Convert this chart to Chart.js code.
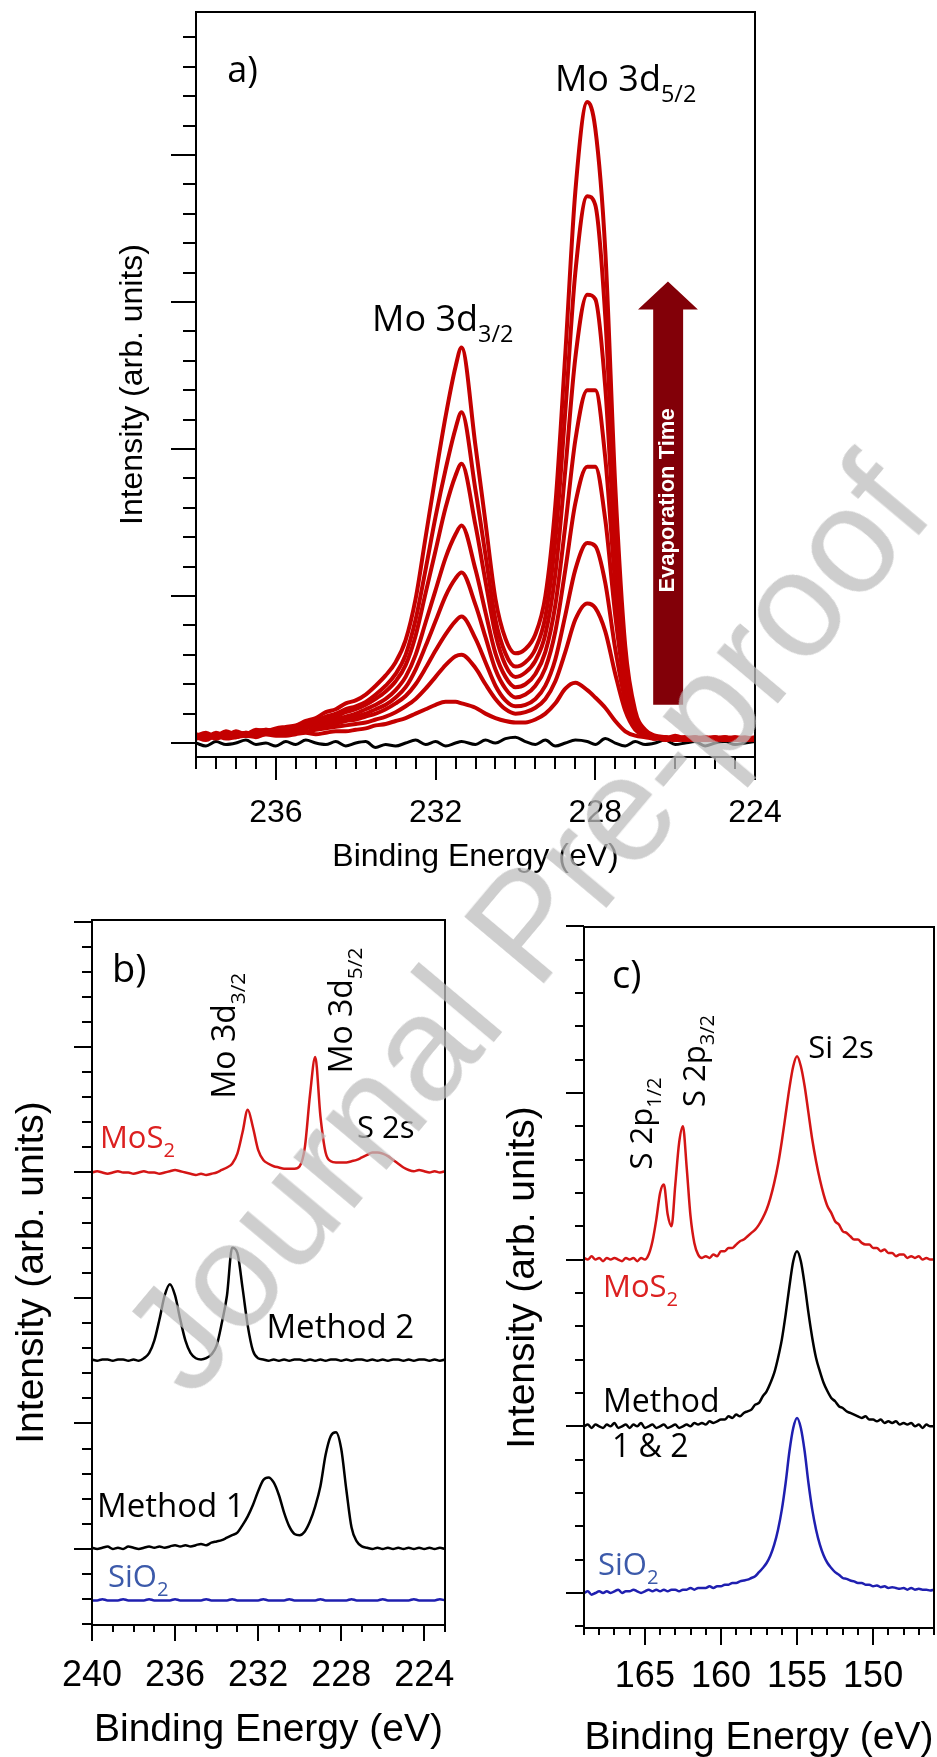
<!DOCTYPE html>
<html>
<head>
<meta charset="utf-8">
<title>XPS Mo 3d / S 2p spectra</title>
<script src="https://cdn.jsdelivr.net/npm/chart.js@4.4.1/dist/chart.umd.min.js"></script>
<style>
  html, body { margin: 0; padding: 0; background: #fff; overflow: hidden; }
  body { width: 937px; height: 1757px; position: relative; }
  .panel { position: absolute; }
  .panel canvas { display: block; }
  #watermark {
    position: absolute; left: 525px; top: 924px;
    transform: translate(-50%, -50%) rotate(-50deg);
    font: 150px "Liberation Sans", Arial, sans-serif; line-height: 1;
    color: rgba(190, 190, 190, 0.75); white-space: nowrap; pointer-events: none;
  }
</style>
</head>
<body>
<div class="panel" style="left:0;top:0"><canvas id="chartA" width="937" height="880"></canvas></div>
<div class="panel" style="left:0;top:880px"><canvas id="chartB" width="470" height="877"></canvas></div>
<div class="panel" style="left:470px;top:880px"><canvas id="chartC" width="467" height="877"></canvas></div>
<div id="watermark">Journal Pre-proof</div>

<script>
// ---------- panel a : Mo 3d while evaporating ----------
const energyA = [238, 237.75, 237.5, 237.25, 237, 236.75, 236.5, 236.25, 236, 235.75,
  235.5, 235.25, 235, 234.75, 234.5, 234.25, 234, 233.75, 233.5, 233.25,
  233, 232.75, 232.5, 232.25, 232, 231.75, 231.5, 231.35, 231, 230.75,
  230.5, 230.25, 230, 229.75, 229.5, 229.25, 229, 228.75, 228.5, 228.2,
  228, 227.75, 227.5, 227.25, 227, 226.75, 226.5, 226.25, 226, 225.75,
  225.5, 225.25, 225, 224.75, 224.5, 224.25, 224];

const evap1 = [0.04, 0.02, 0.05, 0.03, 0.04, 0.05, 0.04, 0.06, 0.05, 0.05,
  0.06, 0.07, 0.06, 0.07, 0.08, 0.08, 0.09, 0.10, 0.12, 0.13,
  0.15, 0.17, 0.20, 0.23, 0.26, 0.28, 0.28, 0.27, 0.24, 0.20,
  0.17, 0.15, 0.14, 0.14, 0.16, 0.20, 0.27, 0.37, 0.41, 0.36,
  0.31, 0.24, 0.15, 0.08, 0.05, 0.04, 0.03, 0.04, 0.02, 0.03,
  0.04, 0.02, 0.03, 0.04, 0.02, 0.03, 0.03];
const evap2 = [0.03, 0.05, 0.03, 0.05, 0.04, 0.06, 0.05, 0.06, 0.06, 0.07,
  0.08, 0.08, 0.09, 0.10, 0.11, 0.12, 0.13, 0.14, 0.16, 0.18,
  0.21, 0.25, 0.30, 0.37, 0.45, 0.53, 0.59, 0.60, 0.51, 0.40,
  0.30, 0.23, 0.20, 0.21, 0.24, 0.30, 0.42, 0.62, 0.84, 0.95,
  0.92, 0.76, 0.47, 0.22, 0.09, 0.05, 0.03, 0.04, 0.02, 0.03,
  0.04, 0.02, 0.03, 0.04, 0.02, 0.03, 0.03];
const evap3 = [0.04, 0.03, 0.05, 0.04, 0.06, 0.05, 0.06, 0.08, 0.07, 0.08,
  0.09, 0.10, 0.11, 0.12, 0.13, 0.15, 0.16, 0.18, 0.20, 0.23,
  0.27, 0.32, 0.40, 0.51, 0.63, 0.74, 0.83, 0.86, 0.71, 0.55,
  0.39, 0.29, 0.25, 0.26, 0.30, 0.39, 0.57, 0.87, 1.18, 1.36,
  1.34, 1.09, 0.64, 0.29, 0.11, 0.05, 0.04, 0.02, 0.03, 0.04,
  0.02, 0.03, 0.04, 0.02, 0.03, 0.04, 0.02];
const evap4 = [0.03, 0.05, 0.04, 0.06, 0.05, 0.07, 0.06, 0.07, 0.09, 0.08,
  0.10, 0.11, 0.12, 0.13, 0.15, 0.17, 0.18, 0.20, 0.23, 0.26,
  0.31, 0.38, 0.50, 0.66, 0.83, 1.00, 1.12, 1.16, 0.94, 0.72,
  0.50, 0.37, 0.31, 0.33, 0.39, 0.51, 0.76, 1.18, 1.63, 1.88,
  1.88, 1.52, 0.87, 0.37, 0.13, 0.06, 0.03, 0.04, 0.03, 0.02,
  0.04, 0.03, 0.02, 0.04, 0.03, 0.02, 0.03];
const evap5 = [0.05, 0.03, 0.06, 0.05, 0.07, 0.05, 0.08, 0.07, 0.08, 0.10,
  0.09, 0.11, 0.13, 0.14, 0.16, 0.18, 0.20, 0.23, 0.26, 0.30,
  0.36, 0.45, 0.60, 0.82, 1.04, 1.26, 1.42, 1.48, 1.18, 0.89,
  0.61, 0.45, 0.38, 0.40, 0.47, 0.62, 0.94, 1.48, 2.06, 2.40,
  2.40, 1.94, 1.08, 0.44, 0.15, 0.06, 0.04, 0.03, 0.04, 0.02,
  0.03, 0.04, 0.02, 0.03, 0.04, 0.02, 0.03];
const evap6 = [0.04, 0.06, 0.05, 0.08, 0.06, 0.07, 0.06, 0.09, 0.08, 0.09,
  0.11, 0.12, 0.14, 0.16, 0.18, 0.21, 0.23, 0.26, 0.30, 0.35,
  0.42, 0.53, 0.73, 1.02, 1.31, 1.60, 1.82, 1.90, 1.48, 1.10,
  0.74, 0.53, 0.45, 0.48, 0.56, 0.74, 1.15, 1.86, 2.62, 3.05,
  3.02, 2.42, 1.30, 0.50, 0.17, 0.07, 0.03, 0.04, 0.02, 0.04,
  0.03, 0.02, 0.04, 0.03, 0.02, 0.03, 0.04];
const evap7 = [0.05, 0.07, 0.04, 0.06, 0.07, 0.05, 0.08, 0.09, 0.08, 0.10,
  0.11, 0.13, 0.15, 0.18, 0.20, 0.23, 0.25, 0.28, 0.33, 0.39,
  0.47, 0.60, 0.84, 1.18, 1.54, 1.86, 2.14, 2.25, 1.72, 1.28,
  0.84, 0.61, 0.52, 0.55, 0.64, 0.86, 1.38, 2.26, 3.20, 3.72,
  3.66, 2.90, 1.52, 0.56, 0.18, 0.07, 0.04, 0.03, 0.05, 0.03,
  0.02, 0.04, 0.03, 0.02, 0.04, 0.03, 0.02];
const evap8 = [0.06, 0.04, 0.07, 0.05, 0.08, 0.06, 0.09, 0.08, 0.10, 0.11,
  0.12, 0.15, 0.17, 0.21, 0.23, 0.27, 0.29, 0.33, 0.39, 0.46,
  0.55, 0.70, 0.98, 1.40, 1.82, 2.22, 2.56, 2.69, 2.02, 1.50,
  0.98, 0.71, 0.61, 0.64, 0.74, 1.00, 1.62, 2.65, 3.75, 4.36,
  4.18, 3.35, 1.75, 0.66, 0.22, 0.09, 0.05, 0.04, 0.03, 0.04,
  0.02, 0.03, 0.04, 0.02, 0.03, 0.02, 0.03];
const substrateA = [0.00, -0.02, 0.01, -0.01, 0.00, 0.02, -0.01, 0.00, -0.02, 0.01,
  -0.01, 0.02, 0.00, -0.01, 0.01, -0.02, 0.00, 0.01, -0.03, -0.01,
  -0.02, 0.00, 0.02, -0.01, 0.01, -0.02, 0.00, 0.01, -0.01, 0.02,
  0.00, 0.03, 0.04, 0.01, -0.01, 0.02, -0.02, 0.00, 0.02, 0.01,
  -0.01, 0.03, 0.00, -0.02, 0.01, -0.01, 0.00, 0.02, -0.01, 0.00,
  0.01, -0.02, 0.00, 0.01, -0.01, 0.00, 0.01];
const tickLabelsA = [236, 232, 228, 224];

// ---------- panel b : Mo 3d of the three samples ----------
const energyB = [240, 239.75, 239.5, 239.25, 239, 238.75, 238.5, 238.25, 238, 237.75,
  237.5, 237.25, 237, 236.75, 236.5, 236.25, 236, 235.75, 235.5, 235.25,
  235, 234.75, 234.5, 234.25, 234, 233.75, 233.5, 233.25, 233, 232.75,
  232.5, 232.25, 232, 231.75, 231.5, 231.25, 231, 230.75, 230.5, 230.25,
  230, 229.75, 229.5, 229.25, 229, 228.75, 228.5, 228.25, 228, 227.75,
  227.5, 227.25, 227, 226.75, 226.5, 226.25, 226, 225.75, 225.5, 225.25,
  225, 224.75, 224.5, 224.25, 224, 223.75, 223.5, 223.25, 223];
const mos2B = [3.00, 3.01, 3.00, 2.99, 3.00, 3.01, 3.00, 3.00, 2.99, 3.00,
  3.01, 3.00, 3.00, 2.99, 3.00, 3.01, 3.02, 3.01, 3.00, 2.99,
  2.98, 2.99, 2.98, 2.99, 3.00, 3.02, 3.04, 3.07, 3.15, 3.32,
  3.50, 3.36, 3.18, 3.10, 3.07, 3.05, 3.04, 3.03, 3.03, 3.03,
  3.05, 3.20, 3.62, 3.92, 3.45, 3.16, 3.09, 3.08, 3.08, 3.08,
  3.09, 3.10, 3.12, 3.14, 3.16, 3.16, 3.15, 3.13, 3.10, 3.07,
  3.04, 3.02, 3.01, 3.02, 3.01, 3.00, 3.01, 3.00, 3.01];
const method2B = [1.51, 1.50, 1.51, 1.51, 1.50, 1.51, 1.51, 1.50, 1.51, 1.50,
  1.52, 1.56, 1.66, 1.83, 2.02, 2.11, 2.02, 1.83, 1.66, 1.56,
  1.52, 1.51, 1.52, 1.55, 1.62, 1.80, 2.02, 2.40, 2.36, 2.08,
  1.78, 1.58, 1.52, 1.51, 1.50, 1.51, 1.50, 1.51, 1.50, 1.51,
  1.51, 1.50, 1.51, 1.50, 1.51, 1.50, 1.51, 1.51, 1.50, 1.51,
  1.50, 1.51, 1.51, 1.50, 1.51, 1.50, 1.51, 1.50, 1.51, 1.51,
  1.50, 1.51, 1.50, 1.51, 1.51, 1.50, 1.51, 1.50, 1.51];
const method1B = [0.01, 0.00, 0.01, 0.02, 0.00, 0.01, 0.00, 0.02, 0.01, 0.00,
  0.01, 0.02, 0.01, 0.02, 0.01, 0.02, 0.03, 0.02, 0.03, 0.02,
  0.03, 0.04, 0.03, 0.05, 0.06, 0.07, 0.09, 0.11, 0.13, 0.19,
  0.26, 0.35, 0.46, 0.55, 0.57, 0.53, 0.43, 0.29, 0.18, 0.12,
  0.11, 0.14, 0.22, 0.34, 0.50, 0.75, 0.90, 0.93, 0.80, 0.47,
  0.17, 0.06, 0.02, 0.01, 0.00, 0.01, 0.00, 0.01, 0.00, 0.01,
  0.00, 0.01, 0.00, 0.01, 0.00, 0.01, 0.00, 0.01, 0.00];
const sio2B = [-0.41, -0.41, -0.40, -0.41, -0.41, -0.41, -0.40, -0.41, -0.41, -0.41,
  -0.41, -0.40, -0.41, -0.41, -0.41, -0.41, -0.40, -0.41, -0.41, -0.41,
  -0.41, -0.41, -0.40, -0.41, -0.41, -0.41, -0.41, -0.40, -0.41, -0.41,
  -0.41, -0.41, -0.41, -0.40, -0.41, -0.41, -0.41, -0.41, -0.40, -0.41,
  -0.41, -0.41, -0.41, -0.41, -0.40, -0.41, -0.41, -0.41, -0.41, -0.41,
  -0.40, -0.41, -0.41, -0.41, -0.41, -0.41, -0.40, -0.41, -0.41, -0.41,
  -0.41, -0.41, -0.40, -0.41, -0.41, -0.41, -0.41, -0.40, -0.41];
const tickLabelsB = [240, 236, 232, 228, 224];

// ---------- panel c : S 2p / Si 2s ----------
const energyC = [169, 168.75, 168.5, 168.25, 168, 167.75, 167.5, 167.25, 167, 166.75,
  166.5, 166.25, 166, 165.75, 165.5, 165.25, 165, 164.75, 164.5, 164.25,
  164, 163.75, 163.5, 163.25, 163, 162.75, 162.5, 162.25, 162, 161.75,
  161.5, 161.25, 161, 160.75, 160.5, 160.25, 160, 159.75, 159.5, 159.25,
  159, 158.75, 158.5, 158.25, 158, 157.75, 157.5, 157.25, 157, 156.75,
  156.5, 156.25, 156, 155.75, 155.5, 155.25, 155, 154.75, 154.5, 154.25,
  154, 153.75, 153.5, 153.25, 153, 152.75, 152.5, 152.25, 152, 151.75,
  151.5, 151.25, 151, 150.75, 150.5, 150.25, 150, 149.75, 149.5, 149.25,
  149, 148.75, 148.5, 148.25, 148, 147.75, 147.5, 147.25, 147, 146.75,
  146.5, 146.25, 146];
const mos2C = [2.01, 2.00, 2.02, 2.00, 2.01, 1.99, 2.01, 2.00, 2.01, 2.00,
  1.99, 2.01, 2.00, 2.01, 1.99, 2.01, 2.00, 2.03, 2.11, 2.24,
  2.40, 2.45, 2.27, 2.20, 2.45, 2.70, 2.80, 2.55, 2.26, 2.10,
  2.03, 2.01, 2.02, 2.01, 2.03, 2.02, 2.05, 2.05, 2.07, 2.07,
  2.09, 2.11, 2.12, 2.14, 2.16, 2.18, 2.21, 2.25, 2.30, 2.37,
  2.46, 2.57, 2.71, 2.87, 3.03, 3.16, 3.22, 3.16, 3.04, 2.88,
  2.72, 2.59, 2.48, 2.39, 2.32, 2.28, 2.23, 2.21, 2.17, 2.16,
  2.14, 2.12, 2.12, 2.10, 2.09, 2.09, 2.07, 2.07, 2.05, 2.06,
  2.04, 2.04, 2.02, 2.03, 2.03, 2.01, 2.02, 2.01, 2.02, 2.00,
  2.01, 2.00, 2.00];
const methodC = [1.00, 1.01, 0.99, 1.01, 1.00, 0.99, 1.01, 1.00, 1.02, 0.99,
  1.00, 1.01, 0.99, 1.01, 1.00, 1.02, 0.99, 1.00, 1.01, 0.99,
  1.00, 1.01, 0.99, 1.00, 1.01, 0.99, 1.00, 1.01, 1.00, 1.02,
  1.01, 1.02, 1.01, 1.03, 1.02, 1.03, 1.04, 1.04, 1.06, 1.05,
  1.07, 1.06, 1.08, 1.09, 1.10, 1.13, 1.14, 1.18, 1.21, 1.26,
  1.32, 1.41, 1.52, 1.67, 1.84, 1.99, 2.05, 1.99, 1.85, 1.68,
  1.53, 1.41, 1.33, 1.26, 1.21, 1.17, 1.15, 1.12, 1.11, 1.09,
  1.08, 1.07, 1.06, 1.05, 1.06, 1.04, 1.04, 1.03, 1.04, 1.02,
  1.03, 1.02, 1.03, 1.01, 1.02, 1.01, 1.02, 1.00, 1.01, 0.99,
  1.01, 1.00, 1.00];
const sio2C = [0.00, 0.01, -0.01, 0.00, 0.01, 0.00, 0.01, 0.00, 0.01, 0.02,
  0.00, 0.01, 0.01, 0.02, 0.01, 0.00, 0.01, 0.02, 0.01, 0.02,
  0.01, 0.02, 0.01, 0.02, 0.02, 0.01, 0.02, 0.02, 0.03, 0.02,
  0.03, 0.03, 0.03, 0.04, 0.03, 0.04, 0.04, 0.05, 0.05, 0.06,
  0.06, 0.07, 0.075, 0.08, 0.09, 0.10, 0.125, 0.15, 0.18, 0.225,
  0.29, 0.38, 0.50, 0.66, 0.85, 0.99, 1.05, 0.99, 0.85, 0.66,
  0.50, 0.38, 0.29, 0.225, 0.18, 0.15, 0.125, 0.11, 0.09, 0.085,
  0.075, 0.07, 0.06, 0.06, 0.05, 0.05, 0.04, 0.045, 0.035, 0.04,
  0.03, 0.035, 0.03, 0.025, 0.03, 0.02, 0.03, 0.02, 0.025, 0.02,
  0.02, 0.015, 0.02];
const tickLabelsC = [165, 160, 155, 150];

// ---------- styling ----------
const axisFont = '"Liberation Sans", Arial, Helvetica, sans-serif';
const noteFont = '"Open Sans", "Noto Sans", sans-serif';
const RED_A = '#c40000', RED = '#d41515', BLUE = '#1f1fb0', BLACK = '#000000';
const RED_TXT = '#dc2020', BLUE_TXT = '#3c5aaa';

// tick positions (not data)
function steps(a, b, step) {
  const out = [];
  const n = Math.round(Math.abs(b - a) / step);
  const dir = b > a ? 1 : -1;
  for (let i = 0; i <= n; i++) out.push(+(a + dir * step * i).toFixed(3));
  return out;
}

const panels = [
  {
    id: 'chartA', w: 937, h: 880,
    area: {left: 196, top: 12, right: 755, bottom: 757},
    energy: energyA, xMin: 224, xMax: 238, yMin: -0.095, yMax: 4.973,
    xLabels: tickLabelsA, tickSize: 32, titleSize: 32, labelGap: 37,
    xTitlePad: 4, yTitlePad: 114, lw: 2,
    xMinor: steps(238, 224, 0.5), xMajor: [236, 232, 228, 224], xMinorLen: 12, xMajorLen: 23,
    yMinor: steps(0, 4.8, 0.2), yMajor: [0, 1, 2, 3, 4], yMinorLen: 13, yMajorLen: 25,
    series: [
      {values: evap8, color: RED_A, width: 4}, {values: evap7, color: RED_A, width: 4},
      {values: evap6, color: RED_A, width: 4}, {values: evap5, color: RED_A, width: 4},
      {values: evap4, color: RED_A, width: 4}, {values: evap3, color: RED_A, width: 4},
      {values: evap2, color: RED_A, width: 4}, {values: evap1, color: RED_A, width: 4},
      {values: substrateA, color: BLACK, width: 3}
    ],
    notes: [
      {x: 237.22, y: 4.50, size: 36, parts: [['a)']]},
      {x: 233.59, y: 2.80, size: 36, parts: [['Mo 3d'], ['3/2', true]]},
      {x: 229.01, y: 4.435, size: 36, parts: [['Mo 3d'], ['5/2', true]]}
    ],
    arrow: {left: 226.55, right: 225.80, headLeft: 226.93, headRight: 225.43,
      bottom: 0.26, neck: 2.95, tip: 3.14, color: '#820008',
      text: 'Evaporation Time', textX: 226.18, textY: 1.65, textSize: 22}
  },
  {
    id: 'chartB', w: 470, h: 877,
    area: {left: 92, top: 40, right: 445, bottom: 745},
    energy: energyB, xMin: 223, xMax: 240, yMin: -0.606, yMax: 5.012,
    xLabels: tickLabelsB, tickSize: 36, titleSize: 39, labelGap: 29,
    xTitlePad: 3, yTitlePad: 9, lw: 2,
    xMinor: steps(240, 223, 1), xMajor: [240, 236, 232, 228, 224], xMinorLen: 7, xMajorLen: 16,
    yMinor: steps(-0.6, 5, 0.2), yMajor: [0, 1, 2, 3, 4, 5], yMinorLen: 10, yMajorLen: 18,
    series: [
      {values: mos2B, color: RED, width: 2.5},
      {values: method2B, color: BLACK, width: 2.5},
      {values: method1B, color: BLACK, width: 2.5},
      {values: sio2B, color: BLUE, width: 2.5}
    ],
    notes: [
      {x: 239.04, y: 4.52, size: 38, parts: [['b)']]},
      {x: 233.09, y: 3.59, size: 32, rot: -90, parts: [['Mo 3d'], ['3/2', true]]},
      {x: 227.48, y: 3.79, size: 32, rot: -90, parts: [['Mo 3d'], ['5/2', true]]},
      {x: 239.62, y: 3.195, size: 31, color: RED_TXT, parts: [['MoS'], ['2', true]]},
      {x: 227.24, y: 3.275, size: 31, parts: [['S 2s']]},
      {x: 231.6, y: 1.68, size: 33, parts: [['Method 2']]},
      {x: 239.76, y: 0.255, size: 33, parts: [['Method 1']]},
      {x: 239.23, y: -0.30, size: 31, color: BLUE_TXT, parts: [['SiO'], ['2', true]]}
    ]
  },
  {
    id: 'chartC', w: 467, h: 877,
    area: {left: 114, top: 47, right: 464, bottom: 748},
    energy: energyC, xMin: 146, xMax: 169, yMin: -0.21, yMax: 3.995,
    xLabels: tickLabelsC, tickSize: 36, titleSize: 39, labelGap: 27,
    xTitlePad: -5, yTitlePad: 30, lw: 2,
    xMinor: steps(169, 146, 1), xMajor: [165, 160, 155, 150], xMinorLen: 7, xMajorLen: 17,
    yMinor: steps(-0.2, 4, 0.2), yMajor: [0, 1, 2, 3, 4], yMinorLen: 9, yMajorLen: 18,
    series: [
      {values: mos2C, color: RED, width: 2.5},
      {values: methodC, color: BLACK, width: 2.5},
      {values: sio2C, color: BLUE, width: 2.5}
    ],
    notes: [
      {x: 167.16, y: 3.63, size: 38, parts: [['c)']]},
      {x: 164.53, y: 2.54, size: 31, rot: -90, parts: [['S 2p'], ['1/2', true]]},
      {x: 161.04, y: 2.915, size: 31, rot: -90, parts: [['S 2p'], ['3/2', true]]},
      {x: 154.26, y: 3.21, size: 31, parts: [['Si 2s']]},
      {x: 167.75, y: 1.776, size: 31, color: RED_TXT, parts: [['MoS'], ['2', true]]},
      {x: 167.75, y: 1.086, size: 32, parts: [['Method']]},
      {x: 167.16, y: 0.816, size: 32, parts: [['1 & 2']]},
      {x: 168.08, y: 0.108, size: 31, color: BLUE_TXT, parts: [['SiO'], ['2', true]]}
    ]
  }
];

function drawNote(ctx, px, py, n) {
  ctx.save();
  ctx.translate(px, py);
  if (n.rot) ctx.rotate(n.rot * Math.PI / 180);
  ctx.fillStyle = n.color || '#000';
  ctx.textAlign = 'left';
  ctx.textBaseline = 'alphabetic';
  let cx = 0;
  n.parts.forEach(([t, sub]) => {
    const s = sub ? n.size * 0.65 : n.size;
    ctx.font = s + 'px ' + noteFont;
    ctx.fillText(t, cx, sub ? n.size * 0.3 : 0);
    cx += ctx.measureText(t).width;
  });
  ctx.restore();
}

// frame, tick marks, arrow and labels, all placed through the chart's scales
function framePlugin(p) {
  return {
    id: 'frame_' + p.id,
    afterDatasetsDraw(chart) {
      const {ctx, chartArea: a} = chart;
      const xs = chart.scales.x, ys = chart.scales.y;
      ctx.save();

      if (p.arrow) {
        const r = p.arrow;
        ctx.fillStyle = r.color;
        ctx.beginPath();
        ctx.moveTo(xs.getPixelForValue(r.left), ys.getPixelForValue(r.bottom));
        ctx.lineTo(xs.getPixelForValue(r.left), ys.getPixelForValue(r.neck));
        ctx.lineTo(xs.getPixelForValue(r.headLeft), ys.getPixelForValue(r.neck));
        ctx.lineTo(xs.getPixelForValue(r.textX), ys.getPixelForValue(r.tip));
        ctx.lineTo(xs.getPixelForValue(r.headRight), ys.getPixelForValue(r.neck));
        ctx.lineTo(xs.getPixelForValue(r.right), ys.getPixelForValue(r.neck));
        ctx.lineTo(xs.getPixelForValue(r.right), ys.getPixelForValue(r.bottom));
        ctx.closePath();
        ctx.fill();
        ctx.save();
        ctx.translate(xs.getPixelForValue(r.textX), ys.getPixelForValue(r.textY));
        ctx.rotate(-Math.PI / 2);
        ctx.fillStyle = '#fff';
        ctx.font = 'bold ' + r.textSize + 'px ' + axisFont;
        ctx.textAlign = 'center';
        ctx.textBaseline = 'middle';
        ctx.fillText(r.text, 0, 0);
        ctx.restore();
      }

      ctx.strokeStyle = '#000';
      ctx.lineWidth = p.lw;
      ctx.beginPath();
      ctx.rect(a.left, a.top, a.right - a.left, a.bottom - a.top);
      const xTick = (v, len) => {
        const px = Math.round(xs.getPixelForValue(v));
        ctx.moveTo(px, a.bottom); ctx.lineTo(px, a.bottom + len);
      };
      const yTick = (v, len) => {
        const py = Math.round(ys.getPixelForValue(v));
        ctx.moveTo(a.left, py); ctx.lineTo(a.left - len, py);
      };
      p.xMinor.forEach(v => xTick(v, p.xMinorLen));
      p.xMajor.forEach(v => xTick(v, p.xMajorLen));
      p.yMinor.forEach(v => yTick(v, p.yMinorLen));
      p.yMajor.forEach(v => yTick(v, p.yMajorLen));
      ctx.stroke();

      p.notes.forEach(n => drawNote(ctx, xs.getPixelForValue(n.x), ys.getPixelForValue(n.y), n));
      ctx.restore();
    }
  };
}

function buildChart(p) {
  return new Chart(document.getElementById(p.id), {
    type: 'line',
    data: {
      datasets: p.series.map(s => ({
        data: p.energy.map((e, i) => ({x: e, y: s.values[i]})),
        borderColor: s.color,
        borderWidth: s.width,
        pointRadius: 0,
        fill: false,
        cubicInterpolationMode: 'monotone'
      }))
    },
    options: {
      responsive: false,
      animation: false,
      devicePixelRatio: 1,
      layout: {padding: {left: 0, top: p.area.top, right: p.w - p.area.right, bottom: 0}},
      plugins: {legend: {display: false}, tooltip: {enabled: false}},
      scales: {
        x: {
          type: 'linear', reverse: true, min: p.xMin, max: p.xMax,
          afterBuildTicks: s => { s.ticks = p.xLabels.map(v => ({value: v})); },
          afterFit: s => { s.height = p.h - p.area.bottom; },
          grid: {display: true, drawOnChartArea: false, drawTicks: true,
                 tickLength: p.labelGap, color: 'rgba(0,0,0,0)'},
          border: {display: false},
          ticks: {padding: 0, autoSkip: false, maxRotation: 0, color: '#000',
                  font: {family: axisFont, size: p.tickSize}, callback: v => String(v)},
          title: {display: true, text: 'Binding Energy (eV)', color: '#000',
                  font: {family: axisFont, size: p.titleSize},
                  padding: {top: 0, bottom: p.xTitlePad}}
        },
        y: {
          type: 'linear', min: p.yMin, max: p.yMax,
          afterFit: s => { s.width = p.area.left; },
          grid: {display: false},
          border: {display: false},
          ticks: {display: false},
          title: {display: true, text: 'Intensity (arb. units)', color: '#000',
                  font: {family: axisFont, size: p.titleSize},
                  padding: {top: p.yTitlePad, bottom: 0}}
        }
      }
    },
    plugins: [framePlugin(p)]
  });
}

document.fonts.ready.then(() => panels.forEach(buildChart));
</script>
</body>
</html>
